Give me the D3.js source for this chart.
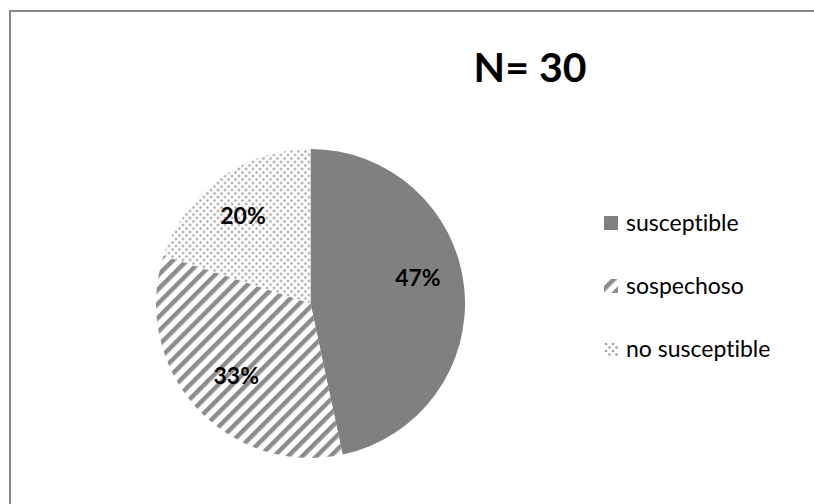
<!DOCTYPE html>
<html lang='en'>
  <head>
    <meta charset='utf-8'>
    <style>
      body { margin: 0; background: #fff; }
      svg { display: block; }
      text { font-variant-ligatures: none; }
    </style>
  </head>
  <body>
    <div id='chart'></div>

    <script src='https://cdn.jsdelivr.net/npm/d3@7'></script>
    <script>
      // chart data
      var categories = ['susceptible', 'sospechoso', 'no susceptible'];
      var counts = [14, 10, 6];
      var pctLabels = ['47%', '33%', '20%'];
      var title = 'N= 30';

      var width = 814, height = 504;
      var cx = 310.5, cy = 303.5, radius = 154.5;

      var svg = d3.select('#chart').append('svg')
          .attr('width', width)
          .attr('height', height);

      var defs = svg.append('defs');

      // diagonal stripes
      var stripes = defs.append('pattern')
          .attr('id', 'stripes')
          .attr('patternUnits', 'userSpaceOnUse')
          .attr('width', 10)
          .attr('height', 10)
          .attr('patternTransform', 'rotate(45)');
      stripes.append('rect').attr('width', 10).attr('height', 10).attr('fill', '#fff');
      stripes.append('rect').attr('x', 0).attr('width', 4.5).attr('height', 10).attr('fill', '#8c8c8c');

      // dots
      var dots = defs.append('pattern')
          .attr('id', 'dots')
          .attr('patternUnits', 'userSpaceOnUse')
          .attr('width', 7)
          .attr('height', 7);
      dots.append('rect').attr('width', 7).attr('height', 7).attr('fill', '#fff');
      dots.append('circle').attr('cx', 2).attr('cy', 2).attr('r', 1.3).attr('fill', '#a0a0a0');
      dots.append('circle').attr('cx', 5.5).attr('cy', 5.5).attr('r', 1.3).attr('fill', '#a0a0a0');

      var fills = d3.scaleOrdinal()
          .domain(categories)
          .range(['#808080', 'url(#stripes)', 'url(#dots)']);

      // chart border (runs off the right and bottom edge)
      svg.append('rect')
          .attr('x', 10)
          .attr('y', 11)
          .attr('width', 900)
          .attr('height', 600)
          .attr('fill', 'none')
          .attr('stroke', '#878787')
          .attr('stroke-width', 2);

      var pie = d3.pie().sort(null).value(function (d) { return d; });
      var arcs = pie(counts);

      var arc = d3.arc().innerRadius(0).outerRadius(radius);
      var labelArc = d3.arc().innerRadius(108).outerRadius(108);

      var g = svg.append('g').attr('transform', 'translate(' + cx + ',' + cy + ')');

      g.selectAll('path.slice')
          .data(arcs)
        .enter().append('path')
          .attr('class', 'slice')
          .attr('d', arc)
          .attr('fill', function (d, i) { return fills(categories[i]); });

      g.selectAll('text.pct')
          .data(arcs)
        .enter().append('text')
          .attr('class', 'pct')
          .attr('transform', function (d, i) {
            var c = labelArc.centroid(d);
            // excel nudges the big slice label up a bit
            if (i === 0) c[1] -= 14;
            if (i === 1) c[0] += 6;
            if (i === 2) c[0] -= 4;
            return 'translate(' + c + ')';
          })
          .attr('text-anchor', 'middle')
          .attr('dy', '0.35em')
          .style('font-family', 'Lato, sans-serif')
          .style('font-weight', 'bold')
          .style('font-size', '23px')
          .text(function (d, i) { return pctLabels[i]; });

      svg.append('text')
          .attr('x', 530)
          .attr('y', 82)
          .attr('text-anchor', 'middle')
          .style('font-family', 'Lato, sans-serif')
          .style('font-weight', 'bold')
          .style('font-size', '41px')
          .text(title);

      // legend
      var legend = svg.append('g').attr('transform', 'translate(604,0)');
      var ly = d3.scalePoint().domain(categories).range([223, 349]);

      var item = legend.selectAll('g.item')
          .data(categories)
        .enter().append('g')
          .attr('class', 'item')
          .attr('transform', function (d) { return 'translate(0,' + ly(d) + ')'; });

      item.append('rect')
          .attr('x', 0)
          .attr('y', -7)
          .attr('width', 14)
          .attr('height', 14)
          .attr('fill', function (d) { return fills(d); });

      item.append('text')
          .attr('x', 22)
          .attr('dy', '0.33em')
          .style('font-family', 'Lato, sans-serif')
          .style('font-size', '23px')
          .text(function (d) { return d; });
    </script>
  </body>
</html>
